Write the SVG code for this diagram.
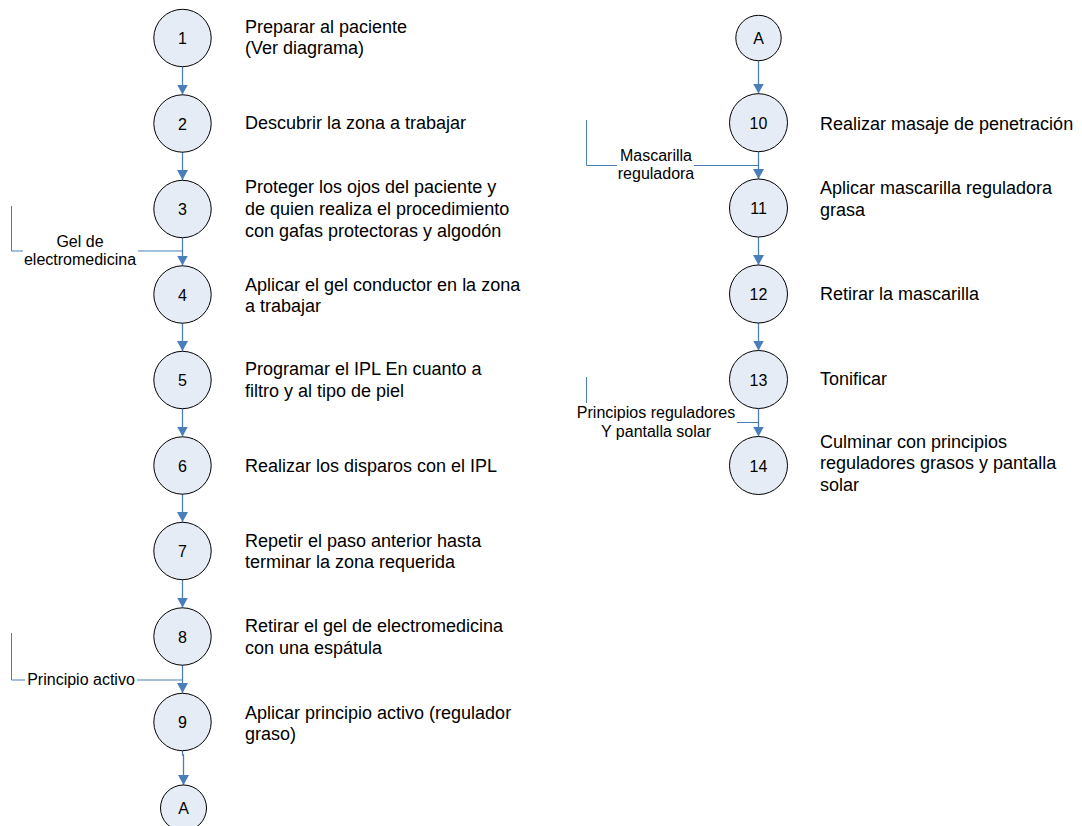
<svg xmlns="http://www.w3.org/2000/svg" width="1082" height="826" viewBox="0 0 1082 826">
  <style>
    .node circle { fill: #E6ECF6; stroke: #000; stroke-width: 1; }
    .num { font-family: "Liberation Sans", Arial, sans-serif; font-size: 16px; fill: #000; text-anchor: middle; }
    .step { font-family: "Liberation Sans", Arial, sans-serif; font-size: 18px; fill: #000; }
    .side { font-family: "Liberation Sans", Arial, sans-serif; font-size: 16px; fill: #000; text-anchor: middle; }
    .flow { stroke: #4A7EBB; stroke-width: 1.3; fill: none; }
    .feed { stroke: #4A7EBB; stroke-width: 1; fill: none; }
  </style>
  <defs>
    <marker id="arrow" markerUnits="userSpaceOnUse" markerWidth="11" markerHeight="12" refX="10" refY="5.5" orient="auto">
      <path d="M0,0 L10,5.5 L0,11 z" fill="#4A7EBB"/>
    </marker>
  </defs>
  <rect width="1082" height="826" fill="#fff"/>

  <!-- connectors -->
  <g id="connectors">
    <!-- left column -->
    <path class="flow" d="M182.5,67 V94.5" marker-end="url(#arrow)"/>
    <path class="flow" d="M182.5,152 V180" marker-end="url(#arrow)"/>
    <path class="flow" d="M182.5,238 V265.5" marker-end="url(#arrow)"/>
    <path class="flow" d="M182.5,323 V351" marker-end="url(#arrow)"/>
    <path class="flow" d="M182.5,409 V436.5" marker-end="url(#arrow)"/>
    <path class="flow" d="M182.5,494 V522" marker-end="url(#arrow)"/>
    <path class="flow" d="M182.5,580 V607.5" marker-end="url(#arrow)"/>
    <path class="flow" d="M182.5,665 V693" marker-end="url(#arrow)"/>
    <path class="flow" d="M182.5,751 V755 H183.5 V785" marker-end="url(#arrow)"/>
    <!-- left feeds -->
    <path class="feed" d="M11.5,206 V251 H23"/>
    <path class="feed" d="M138,251 H182.5"/>
    <path class="feed" d="M11.5,633 V680 H25"/>
    <path class="feed" d="M137,680 H182.5"/>

    <!-- right column -->
    <path class="flow" d="M758.5,61 V93.5" marker-end="url(#arrow)"/>
    <path class="flow" d="M758.5,152 V179" marker-end="url(#arrow)"/>
    <path class="flow" d="M758.5,237 V265" marker-end="url(#arrow)"/>
    <path class="flow" d="M758.5,323 V350.5" marker-end="url(#arrow)"/>
    <path class="flow" d="M758.5,409 V436.5" marker-end="url(#arrow)"/>
    <!-- right feeds -->
    <path class="feed" d="M586.5,120 V165.5 H617"/>
    <path class="feed" d="M694,165.5 H758.5"/>
    <path class="feed" d="M586.5,377 V403"/>
    <path class="feed" d="M737,422.5 H758.5"/>
  </g>

  <!-- feed labels -->
  <g id="label-gel">
    <text class="side" x="80" y="247">Gel de</text>
    <text class="side" x="80" y="265">electromedicina</text>
  </g>
  <g id="label-principio">
    <text class="side" x="81" y="685">Principio activo</text>
  </g>
  <g id="label-mascarilla">
    <text class="side" x="656" y="161">Mascarilla</text>
    <text class="side" x="656" y="179">reguladora</text>
  </g>
  <g id="label-principios">
    <text class="side" x="656" y="418">Principios reguladores</text>
    <text class="side" x="656" y="437">Y pantalla solar</text>
  </g>

  <!-- left column steps -->
  <g id="n1" class="node">
    <circle cx="182.5" cy="38" r="28.7"/>
    <text class="num" x="182.5" y="44">1</text>
    <text class="step" x="245" y="33">Preparar al paciente</text>
    <text class="step" x="245" y="54">(Ver diagrama)</text>
  </g>
  <g id="n2" class="node">
    <circle cx="182.5" cy="123.5" r="28.7"/>
    <text class="num" x="182.5" y="129.5">2</text>
    <text class="step" x="245" y="129">Descubrir la zona a trabajar</text>
  </g>
  <g id="n3" class="node">
    <circle cx="182.5" cy="209" r="28.7"/>
    <text class="num" x="182.5" y="215">3</text>
    <text class="step" x="245" y="193">Proteger los ojos del paciente y</text>
    <text class="step" x="245" y="215">de quien realiza el procedimiento</text>
    <text class="step" x="245" y="237">con gafas protectoras y algodón</text>
  </g>
  <g id="n4" class="node">
    <circle cx="182.5" cy="294.5" r="28.7"/>
    <text class="num" x="182.5" y="300.5">4</text>
    <text class="step" x="245" y="291">Aplicar el gel conductor en la zona</text>
    <text class="step" x="245" y="312">a trabajar</text>
  </g>
  <g id="n5" class="node">
    <circle cx="182.5" cy="380" r="28.7"/>
    <text class="num" x="182.5" y="386">5</text>
    <text class="step" x="245" y="375">Programar el IPL En cuanto a</text>
    <text class="step" x="245" y="397">filtro y al tipo de piel</text>
  </g>
  <g id="n6" class="node">
    <circle cx="182.5" cy="465.5" r="28.7"/>
    <text class="num" x="182.5" y="471.5">6</text>
    <text class="step" x="245" y="472">Realizar los disparos con el IPL</text>
  </g>
  <g id="n7" class="node">
    <circle cx="182.5" cy="551" r="28.7"/>
    <text class="num" x="182.5" y="557">7</text>
    <text class="step" x="245" y="547">Repetir el paso anterior hasta</text>
    <text class="step" x="245" y="568">terminar la zona requerida</text>
  </g>
  <g id="n8" class="node">
    <circle cx="182.5" cy="636.5" r="28.7"/>
    <text class="num" x="182.5" y="642.5">8</text>
    <text class="step" x="245" y="632">Retirar el gel de electromedicina</text>
    <text class="step" x="245" y="654">con una espátula</text>
  </g>
  <g id="n9" class="node">
    <circle cx="182.5" cy="722" r="28.7"/>
    <text class="num" x="182.5" y="728">9</text>
    <text class="step" x="245" y="719">Aplicar principio activo (regulador</text>
    <text class="step" x="245" y="740">graso)</text>
  </g>
  <g id="offpage-a-out" class="node">
    <circle cx="183.5" cy="808" r="23"/>
    <text class="num" x="183.5" y="814">A</text>
  </g>

  <!-- right column steps -->
  <g id="offpage-a-in" class="node">
    <circle cx="758.5" cy="38" r="22.7"/>
    <text class="num" x="758.5" y="44">A</text>
  </g>
  <g id="n10" class="node">
    <circle cx="758.5" cy="122.7" r="29"/>
    <text class="num" x="758.5" y="128.7">10</text>
    <text class="step" x="820" y="130">Realizar masaje de penetración</text>
  </g>
  <g id="n11" class="node">
    <circle cx="758.5" cy="208" r="29"/>
    <text class="num" x="758.5" y="214">11</text>
    <text class="step" x="820" y="194">Aplicar mascarilla reguladora</text>
    <text class="step" x="820" y="216">grasa</text>
  </g>
  <g id="n12" class="node">
    <circle cx="758.5" cy="294" r="29"/>
    <text class="num" x="758.5" y="300">12</text>
    <text class="step" x="820" y="300">Retirar la mascarilla</text>
  </g>
  <g id="n13" class="node">
    <circle cx="758.5" cy="379.5" r="29"/>
    <text class="num" x="758.5" y="385.5">13</text>
    <text class="step" x="820" y="385">Tonificar</text>
  </g>
  <g id="n14" class="node">
    <circle cx="758.5" cy="465.5" r="29"/>
    <text class="num" x="758.5" y="471.5">14</text>
    <text class="step" x="820" y="448">Culminar con principios</text>
    <text class="step" x="820" y="469">reguladores grasos y pantalla</text>
    <text class="step" x="820" y="491">solar</text>
  </g>
</svg>
